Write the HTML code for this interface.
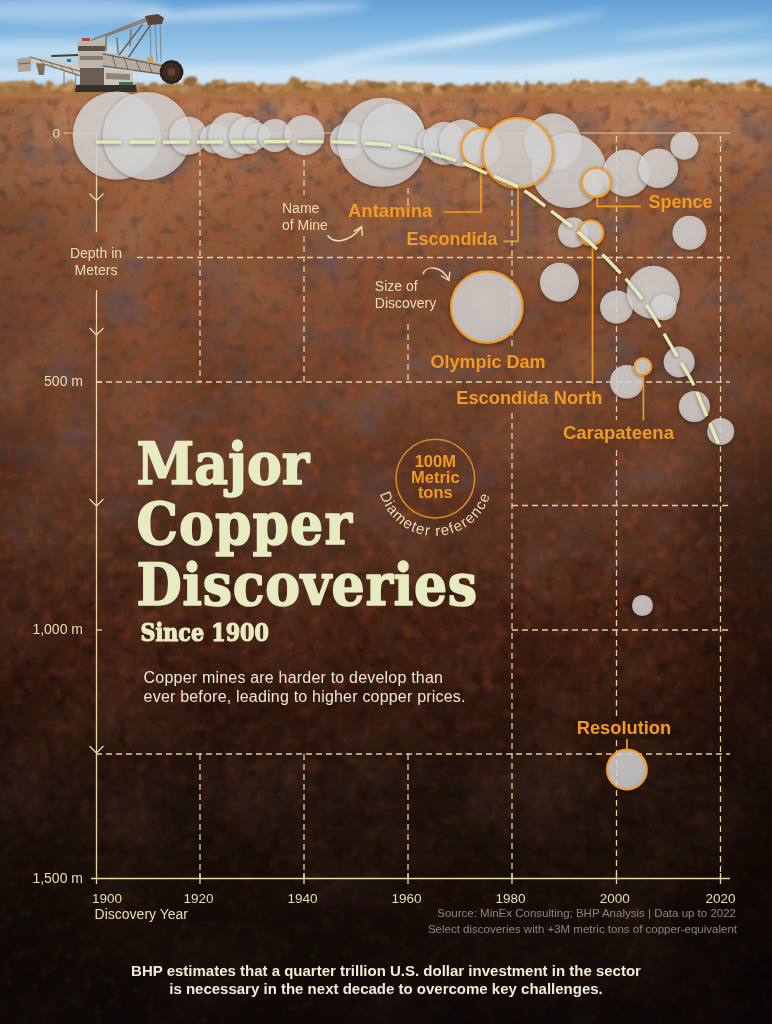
<!DOCTYPE html>
<html lang="en"><head><meta charset="utf-8"><title>Major Copper Discoveries Since 1900</title>
<style>
html,body{margin:0;padding:0;background:#1c130e;}
#c{position:relative;width:772px;height:1024px;overflow:hidden;}
.layer{position:absolute;left:0;top:0;display:block;}
</style></head>
<body><div id="c">
<svg class="layer" width="772" height="1024" viewBox="0 0 772 1024">
<defs>
<linearGradient id="sky" x1="0" y1="0" x2="0" y2="1">
 <stop offset="0" stop-color="#65a2d7"/><stop offset="0.4" stop-color="#8cbfe4"/><stop offset="0.75" stop-color="#b2d4ec"/><stop offset="1" stop-color="#c6def0"/>
</linearGradient>
<linearGradient id="soilg" gradientUnits="userSpaceOnUse" x1="0" y1="88" x2="0" y2="1024">
 <stop offset="0.0000" stop-color="#b47c50"/>
 <stop offset="0.0128" stop-color="#b27850"/>
 <stop offset="0.0662" stop-color="#a46c48"/>
 <stop offset="0.1410" stop-color="#905c3b"/>
 <stop offset="0.2265" stop-color="#7d4c31"/>
 <stop offset="0.3333" stop-color="#72452c"/>
 <stop offset="0.4081" stop-color="#623925"/>
 <stop offset="0.4829" stop-color="#54301f"/>
 <stop offset="0.5598" stop-color="#462315"/>
 <stop offset="0.6004" stop-color="#3e1e12"/>
 <stop offset="0.6752" stop-color="#2f180f"/>
 <stop offset="0.7500" stop-color="#24150e"/>
 <stop offset="0.8141" stop-color="#1e110b"/>
 <stop offset="0.8889" stop-color="#140c09"/>
 <stop offset="1.0000" stop-color="#0e0907"/>
</linearGradient>
<linearGradient id="side" x1="0" y1="0" x2="1" y2="0">
 <stop offset="0" stop-color="#000" stop-opacity="0.12"/><stop offset="0.14" stop-color="#000" stop-opacity="0"/>
 <stop offset="0.9" stop-color="#000" stop-opacity="0"/><stop offset="1" stop-color="#000" stop-opacity="0.1"/>
</linearGradient>
<filter id="nz1" x="0" y="0" width="100%" height="100%" color-interpolation-filters="sRGB">
 <feTurbulence type="fractalNoise" baseFrequency="0.012" numOctaves="2" seed="11"/>
 <feColorMatrix type="matrix" values="0.3 0 0 0 0.35  0.3 0 0 0 0.35  0.3 0 0 0 0.35  0 0 0 0 1"/>
</filter>
<filter id="nzd" x="0" y="0" width="100%" height="100%" color-interpolation-filters="sRGB">
 <feTurbulence type="fractalNoise" baseFrequency="0.085" numOctaves="3" seed="5" result="t"/>
 <feColorMatrix in="t" type="matrix" values="0 0 0 0 0.22  0 0 0 0 0.18  0 0 0 0 0.2  1.2 0 0 0 -0.6"/>
</filter>
<filter id="nzl" x="0" y="0" width="100%" height="100%" color-interpolation-filters="sRGB">
 <feTurbulence type="fractalNoise" baseFrequency="0.075" numOctaves="3" seed="9" result="t"/>
 <feColorMatrix in="t" type="matrix" values="0 0 0 0 0.68  0 0 0 0 0.3  0 0 0 0 0.15  -1.2 0 0 0 0.6"/>
</filter>
<filter id="nzb" x="0" y="0" width="100%" height="100%" color-interpolation-filters="sRGB">
 <feTurbulence type="fractalNoise" baseFrequency="0.02 0.028" numOctaves="3" seed="17" result="t"/>
 <feColorMatrix in="t" type="matrix" values="0 0 0 0 0.36  0 0 0 0 0.33  0 0 0 0 0.38  1.9 0 0 0 -1.026"/>
</filter>
<linearGradient id="bfade" gradientUnits="userSpaceOnUse" x1="0" y1="88" x2="0" y2="700">
 <stop offset="0" stop-color="#fff"/><stop offset="0.55" stop-color="#fff" stop-opacity="0.7"/><stop offset="1" stop-color="#fff" stop-opacity="0"/>
</linearGradient>
<mask id="bmask"><rect x="0" y="88" width="772" height="620" fill="url(#bfade)"/></mask>
<linearGradient id="lfade" gradientUnits="userSpaceOnUse" x1="0" y1="88" x2="0" y2="1024">
 <stop offset="0" stop-color="#fff"/><stop offset="0.45" stop-color="#fff" stop-opacity="0.85"/><stop offset="0.7" stop-color="#fff" stop-opacity="0.35"/><stop offset="1" stop-color="#fff" stop-opacity="0.15"/>
</linearGradient>
<mask id="lmask"><rect x="0" y="88" width="772" height="936" fill="url(#lfade)"/></mask>
<linearGradient id="dfade" gradientUnits="userSpaceOnUse" x1="0" y1="88" x2="0" y2="1024">
 <stop offset="0" stop-color="#fff"/><stop offset="0.35" stop-color="#fff" stop-opacity="0.85"/><stop offset="0.55" stop-color="#fff" stop-opacity="0.3"/><stop offset="0.65" stop-color="#fff" stop-opacity="0"/><stop offset="1" stop-color="#fff" stop-opacity="0"/>
</linearGradient>
<filter id="nzk" x="0" y="0" width="100%" height="100%" color-interpolation-filters="sRGB">
 <feTurbulence type="fractalNoise" baseFrequency="0.07" numOctaves="3" seed="23" result="t"/>
 <feColorMatrix in="t" type="matrix" values="0 0 0 0 0.04  0 0 0 0 0.025  0 0 0 0 0.02  1.2 0 0 0 -0.6"/>
</filter>
<linearGradient id="kfade" gradientUnits="userSpaceOnUse" x1="0" y1="88" x2="0" y2="1024">
 <stop offset="0" stop-color="#fff" stop-opacity="0"/><stop offset="0.4" stop-color="#fff" stop-opacity="0"/><stop offset="0.6" stop-color="#fff" stop-opacity="0.9"/><stop offset="1" stop-color="#fff" stop-opacity="0.9"/>
</linearGradient>
<mask id="kmask"><rect x="0" y="88" width="772" height="936" fill="url(#kfade)"/></mask>
<mask id="dmask"><rect x="0" y="88" width="772" height="936" fill="url(#dfade)"/></mask>
<linearGradient id="rvig" x1="0" y1="0" x2="1" y2="0">
 <stop offset="0" stop-color="#000" stop-opacity="0"/><stop offset="1" stop-color="#000" stop-opacity="0.35"/>
</linearGradient>
<linearGradient id="rvmg" gradientUnits="userSpaceOnUse" x1="0" y1="380" x2="0" y2="1024">
 <stop offset="0" stop-color="#fff" stop-opacity="0"/><stop offset="0.2" stop-color="#fff"/><stop offset="1" stop-color="#fff"/>
</linearGradient>
<mask id="rvm"><rect x="660" y="380" width="112" height="644" fill="url(#rvmg)"/></mask>
<filter id="blur4"><feGaussianBlur stdDeviation="4"/></filter>
<filter id="blur1"><feGaussianBlur stdDeviation="0.8"/></filter>
</defs>
<rect x="0" y="0" width="772" height="100" fill="url(#sky)"/>
<g filter="url(#blur4)" fill="#ffffff">
 <ellipse cx="60" cy="10" rx="110" ry="12" opacity="0.35"/>
 <ellipse cx="250" cy="12" rx="120" ry="6" opacity="0.45" transform="rotate(-3 250 12)"/>
 <ellipse cx="430" cy="44" rx="130" ry="5" opacity="0.5" transform="rotate(-10 430 44)"/>
 <ellipse cx="520" cy="30" rx="90" ry="3.5" opacity="0.4" transform="rotate(-12 520 30)"/>
 <ellipse cx="650" cy="58" rx="130" ry="5" opacity="0.45" transform="rotate(-5 650 58)"/>
 <ellipse cx="40" cy="50" rx="90" ry="10" opacity="0.35"/>
 <ellipse cx="690" cy="30" rx="80" ry="4" opacity="0.3" transform="rotate(-6 690 30)"/>
 <ellipse cx="386" cy="74" rx="420" ry="10" opacity="0.35"/>
</g>
<rect x="0" y="88" width="772" height="936" fill="url(#soilg)"/>
<rect x="0" y="88" width="772" height="936" filter="url(#nz1)" style="mix-blend-mode:soft-light"/>
<rect x="0" y="88" width="772" height="936" filter="url(#nzd)" mask="url(#dmask)"/>
<rect x="0" y="88" width="772" height="936" filter="url(#nzk)" mask="url(#kmask)"/>
<rect x="0" y="88" width="772" height="936" filter="url(#nzl)" mask="url(#lmask)"/>
<rect x="0" y="88" width="772" height="620" filter="url(#nzb)" mask="url(#bmask)"/>
<rect x="0" y="88" width="772" height="936" fill="url(#side)"/>
<rect x="660" y="380" width="112" height="644" fill="url(#rvig)" mask="url(#rvm)"/>

<g filter="url(#blur1)"><rect x="0" y="86" width="772" height="12" fill="#b07a4a"/><polygon points="0.0,96.0 0.0,81.2 3.6,82.4 10.3,86.8 14.2,83.7 17.6,83.3 23.9,86.8 27.7,83.9 33.6,87.1 37.0,85.6 42.0,83.1 45.3,87.6 50.5,83.8 55.8,87.3 60.9,84.5 65.6,83.0 71.8,79.4 76.0,85.2 80.3,85.7 84.1,83.7 90.1,83.9 96.7,80.9 102.8,83.7 106.5,81.7 113.1,87.7 119.9,78.2 126.0,84.5 131.5,85.3 136.3,82.8 143.1,82.9 146.8,86.7 151.0,82.6 155.7,82.1 159.4,84.9 164.3,83.5 167.8,85.2 172.4,87.9 176.4,82.2 180.4,87.3 185.4,80.5 189.2,83.4 192.8,82.3 198.1,87.9 204.7,85.9 210.6,83.3 217.1,87.4 221.5,85.9 227.1,86.9 232.7,82.3 239.5,82.4 246.3,82.3 249.9,87.8 253.1,83.0 258.4,86.5 262.3,82.0 265.3,83.8 271.4,87.3 278.0,83.2 282.3,87.4 287.2,84.1 292.5,84.9 298.0,82.8 304.0,81.6 310.4,82.5 314.9,86.7 318.8,84.9 322.2,82.7 328.7,85.1 335.2,83.0 338.9,83.8 343.6,83.2 347.3,82.9 351.7,85.3 357.5,82.0 362.7,84.9 367.7,78.9 372.1,86.6 377.6,86.1 381.8,87.5 388.5,83.8 394.6,85.7 398.2,86.6 403.8,81.4 410.1,83.1 414.6,85.5 420.1,82.6 426.8,83.1 431.1,82.7 437.9,87.0 444.1,85.0 449.1,85.4 455.2,84.9 460.9,86.5 467.2,83.8 471.8,85.6 477.6,81.9 483.1,88.0 487.7,84.4 491.9,82.9 497.0,86.2 501.5,87.7 505.1,82.4 512.1,87.5 516.3,80.9 523.0,87.4 526.6,79.6 530.3,86.7 535.5,85.2 539.1,80.6 542.6,82.4 546.7,87.3 552.7,85.9 559.2,86.3 564.9,86.3 570.0,82.9 574.9,78.8 578.9,84.3 585.4,84.0 590.1,82.2 593.1,86.3 599.5,84.3 604.4,82.8 611.4,86.2 618.2,84.3 624.5,82.7 631.1,83.8 637.7,82.7 641.8,87.1 646.0,87.4 650.3,87.0 656.9,87.3 662.7,85.6 669.7,81.0 674.7,85.3 678.7,79.9 685.3,82.2 691.6,81.5 697.1,82.5 700.2,82.8 706.8,86.5 711.0,84.3 714.1,84.5 720.1,84.1 726.3,86.2 730.0,82.1 736.7,83.7 741.3,85.8 745.6,83.2 748.7,79.8 752.3,82.6 755.9,78.8 761.6,87.3 765.1,84.0 772.0,96.0" fill="#a87a4a"/><polygon points="0.5,87.1 -0.1,89.2 -5.8,91.2 -8.9,87.1 -8.2,83.4 -4.5,82.4 -0.8,82.8" fill="#c09462"/><polygon points="12.0,87.6 8.1,91.2 3.5,92.0 -4.7,87.7 -1.8,83.5 0.6,82.1 7.8,81.9" fill="#b88c5a"/><ellipse cx="2.0" cy="88.5" rx="4.1" ry="2.2" fill="#7a4e2a" opacity="0.45"/><polygon points="19.0,85.2 14.1,87.2 9.0,87.2 3.1,86.9 3.4,83.2 7.6,81.5 14.6,80.7" fill="#b08250"/><ellipse cx="10.8" cy="87.1" rx="3.9" ry="1.6" fill="#7a4e2a" opacity="0.45"/><polygon points="25.1,85.9 22.2,88.9 18.7,91.2 11.5,87.3 11.7,85.1 16.6,80.6 23.8,81.5" fill="#b08250"/><ellipse cx="15.7" cy="88.2" rx="4.0" ry="2.0" fill="#7a4e2a" opacity="0.45"/><polygon points="29.6,84.4 29.0,87.7 23.6,89.1 19.6,86.5 18.1,83.5 23.1,79.8 29.2,82.8" fill="#b08250"/><ellipse cx="24.9" cy="87.2" rx="3.5" ry="1.9" fill="#7a4e2a" opacity="0.45"/><polygon points="36.4,83.5 33.9,86.9 26.9,88.0 22.1,86.8 25.1,82.4 30.0,80.7 33.9,80.3" fill="#b08250"/><ellipse cx="33.2" cy="85.7" rx="4.2" ry="1.8" fill="#7a4e2a" opacity="0.45"/><polygon points="43.1,86.9 41.7,93.0 35.8,92.3 28.9,90.0 32.1,85.9 33.6,83.2 39.5,84.4" fill="#9a6c3e"/><polygon points="47.6,90.4 47.1,92.3 42.3,93.3 39.9,91.6 40.9,89.1 42.8,88.0 45.6,87.3" fill="#b08250"/><ellipse cx="42.4" cy="91.9" rx="2.2" ry="1.3" fill="#7a4e2a" opacity="0.45"/><polygon points="53.6,84.4 52.7,89.4 48.6,90.4 46.9,87.8 45.2,83.3 48.7,80.3 53.6,82.9" fill="#a87a48"/><ellipse cx="50.5" cy="88.4" rx="2.3" ry="1.8" fill="#7a4e2a" opacity="0.45"/><polygon points="60.3,87.9 58.0,93.0 52.8,92.5 49.8,89.9 50.8,86.5 52.5,85.4 60.5,85.9" fill="#c09462"/><ellipse cx="54.6" cy="91.5" rx="3.5" ry="1.8" fill="#7a4e2a" opacity="0.45"/><polygon points="65.6,90.7 65.8,93.1 59.4,93.1 54.3,92.2 55.7,89.9 60.0,88.3 62.1,88.6" fill="#946638"/><polygon points="71.7,91.6 70.0,93.2 65.1,94.3 59.7,93.0 61.0,89.3 63.1,87.2 71.1,87.3" fill="#c09462"/><ellipse cx="62.8" cy="92.1" rx="3.8" ry="1.8" fill="#7a4e2a" opacity="0.45"/><polygon points="76.7,88.5 73.5,91.0 68.9,92.6 65.7,88.3 67.5,84.9 71.2,81.7 75.5,83.6" fill="#c09462"/><polygon points="82.4,90.6 79.1,92.4 75.4,93.6 72.2,91.6 72.4,88.8 77.2,86.9 79.8,88.1" fill="#946638"/><polygon points="89.4,87.0 87.0,88.8 83.9,89.4 80.0,87.7 79.3,83.9 84.2,81.6 85.9,82.2" fill="#b08250"/><ellipse cx="84.7" cy="88.3" rx="2.5" ry="1.5" fill="#7a4e2a" opacity="0.45"/><polygon points="96.2,87.3 94.7,92.5 91.3,93.2 85.2,88.9 86.8,86.6 88.6,83.7 96.2,84.3" fill="#b08250"/><ellipse cx="93.8" cy="88.9" rx="3.3" ry="2.0" fill="#7a4e2a" opacity="0.45"/><polygon points="102.2,86.9 100.7,87.9 97.3,88.4 92.7,87.1 93.7,84.6 97.3,83.7 100.1,83.0" fill="#a87a48"/><polygon points="110.4,84.9 106.9,89.9 98.7,90.0 94.4,87.1 94.4,84.3 102.3,83.0 104.9,83.2" fill="#c09462"/><ellipse cx="105.0" cy="88.1" rx="3.9" ry="1.7" fill="#7a4e2a" opacity="0.45"/><polygon points="114.3,86.6 112.2,89.7 107.5,90.9 105.4,87.5 105.4,85.0 109.7,83.1 113.9,83.5" fill="#c09462"/><ellipse cx="107.0" cy="89.1" rx="2.9" ry="1.8" fill="#7a4e2a" opacity="0.45"/><polygon points="119.8,86.0 119.2,91.7 114.5,91.6 111.7,88.8 111.2,85.4 113.9,82.9 118.1,84.0" fill="#946638"/><ellipse cx="118.9" cy="89.0" rx="2.2" ry="2.3" fill="#7a4e2a" opacity="0.45"/><polygon points="128.1,88.5 126.2,91.4 120.7,92.3 117.7,90.1 118.7,84.8 122.3,81.9 127.3,83.3" fill="#c09462"/><polygon points="133.8,86.5 129.3,89.0 125.4,90.0 122.8,88.0 121.5,84.3 126.2,83.1 130.0,83.7" fill="#c09462"/><ellipse cx="124.4" cy="87.6" rx="3.1" ry="1.5" fill="#7a4e2a" opacity="0.45"/><polygon points="138.5,87.6 137.9,90.1 131.4,90.9 128.0,88.7 128.1,85.7 132.4,85.0 138.5,85.2" fill="#c09462"/><ellipse cx="132.4" cy="90.2" rx="3.0" ry="1.4" fill="#7a4e2a" opacity="0.45"/><polygon points="145.1,87.4 144.9,90.8 136.0,91.1 132.0,88.3 131.2,86.3 135.3,84.2 142.6,84.5" fill="#b88c5a"/><ellipse cx="141.2" cy="88.8" rx="4.0" ry="1.4" fill="#7a4e2a" opacity="0.45"/><polygon points="154.1,88.5 150.1,91.0 145.5,92.4 139.8,89.5 138.7,86.8 145.6,86.6 151.3,86.3" fill="#946638"/><polygon points="154.0,89.8 153.2,92.9 149.4,93.5 145.4,91.8 146.0,89.4 149.3,87.2 153.6,88.1" fill="#9a6c3e"/><polygon points="159.9,88.6 159.4,91.6 151.9,92.6 150.0,91.4 149.2,85.7 153.6,84.3 159.5,85.3" fill="#a87a48"/><ellipse cx="156.9" cy="89.7" rx="3.0" ry="2.0" fill="#7a4e2a" opacity="0.45"/><polygon points="166.0,90.3 165.2,91.8 158.3,93.2 154.6,90.2 154.4,88.4 159.0,86.7 164.6,86.9" fill="#b08250"/><polygon points="175.2,86.5 170.8,89.6 164.9,89.8 162.0,88.9 162.7,84.3 166.6,82.8 172.0,82.1" fill="#a87a48"/><polygon points="177.9,90.7 177.0,92.6 170.7,94.0 167.1,92.4 165.8,89.5 171.7,87.3 176.7,87.8" fill="#b08250"/><ellipse cx="175.9" cy="92.4" rx="3.3" ry="1.3" fill="#7a4e2a" opacity="0.45"/><polygon points="182.4,86.1 180.8,87.9 178.0,88.7 173.7,87.0 174.6,85.4 178.7,83.6 180.1,83.6" fill="#a87a48"/><polygon points="190.2,88.4 186.9,92.1 182.9,93.7 179.3,91.7 178.4,87.6 183.6,85.9 190.1,86.7" fill="#b88c5a"/><polygon points="197.4,80.8 195.3,84.6 190.6,86.8 182.5,83.2 185.0,78.4 190.3,76.2 196.2,77.3" fill="#946638"/><polygon points="203.0,86.1 200.5,88.7 196.7,88.7 193.9,86.7 193.9,85.2 198.3,83.1 200.6,84.1" fill="#a87a48"/><polygon points="208.5,88.6 207.8,91.3 203.9,92.0 200.6,90.3 201.0,87.8 202.3,86.1 206.2,87.0" fill="#946638"/><polygon points="217.7,89.8 214.2,95.0 210.0,94.0 202.9,91.5 203.0,85.8 207.4,82.6 215.8,85.7" fill="#9a6c3e"/><polygon points="220.6,85.7 217.3,88.8 215.2,90.9 209.5,87.2 210.2,82.2 214.5,79.5 219.8,80.1" fill="#a87a48"/><ellipse cx="217.3" cy="87.5" rx="3.4" ry="2.5" fill="#7a4e2a" opacity="0.45"/><polygon points="227.7,82.4 225.4,88.7 221.9,87.3 219.3,85.1 218.9,81.9 221.7,78.4 226.2,80.8" fill="#c09462"/><ellipse cx="225.7" cy="84.9" rx="2.2" ry="2.0" fill="#7a4e2a" opacity="0.45"/><polygon points="234.2,86.2 232.3,89.9 225.3,90.4 219.9,88.1 220.9,84.0 225.8,83.4 233.2,83.7" fill="#946638"/><polygon points="242.4,89.0 237.3,92.4 229.8,92.6 226.8,89.9 226.6,87.0 231.1,86.4 238.0,86.9" fill="#b88c5a"/><ellipse cx="233.6" cy="90.5" rx="4.4" ry="1.5" fill="#7a4e2a" opacity="0.45"/><polygon points="242.0,87.6 240.3,91.0 237.2,91.6 233.8,90.5 234.2,86.3 236.1,83.4 240.8,84.2" fill="#a87a48"/><ellipse cx="239.5" cy="89.5" rx="2.2" ry="1.9" fill="#7a4e2a" opacity="0.45"/><polygon points="251.4,87.6 248.1,90.9 242.8,90.7 240.1,89.7 239.5,86.5 243.8,85.2 247.8,86.0" fill="#9a6c3e"/><ellipse cx="246.7" cy="89.5" rx="4.2" ry="1.2" fill="#7a4e2a" opacity="0.45"/><polygon points="257.3,86.4 255.1,90.3 248.3,90.1 247.0,88.3 245.2,83.4 249.3,81.2 254.0,82.2" fill="#b08250"/><ellipse cx="253.1" cy="88.9" rx="3.4" ry="2.0" fill="#7a4e2a" opacity="0.45"/><polygon points="260.8,90.9 259.0,93.2 254.8,93.0 253.0,91.4 252.9,88.2 254.6,87.1 259.5,88.0" fill="#b88c5a"/><ellipse cx="254.5" cy="92.8" rx="2.2" ry="1.6" fill="#7a4e2a" opacity="0.45"/><polygon points="270.0,90.0 265.4,92.3 261.4,93.2 255.5,90.3 256.4,88.2 262.6,85.6 266.9,87.0" fill="#946638"/><ellipse cx="264.7" cy="91.0" rx="3.5" ry="1.7" fill="#7a4e2a" opacity="0.45"/><polygon points="276.8,89.3 276.1,91.9 269.4,93.8 261.9,91.3 262.7,85.6 267.7,83.7 275.7,85.2" fill="#b88c5a"/><polygon points="278.1,86.9 276.5,88.6 271.8,89.8 269.5,88.3 270.7,84.8 272.6,84.6 275.1,84.2" fill="#a87a48"/><ellipse cx="270.0" cy="88.3" rx="2.1" ry="1.4" fill="#7a4e2a" opacity="0.45"/><polygon points="284.3,87.0 282.4,89.7 279.7,89.4 276.0,87.8 277.0,85.2 280.2,83.4 282.5,83.9" fill="#b88c5a"/><ellipse cx="281.3" cy="89.6" rx="2.3" ry="1.4" fill="#7a4e2a" opacity="0.45"/><polygon points="291.1,86.9 291.7,88.5 286.8,90.5 282.0,87.4 283.5,84.2 287.2,83.3 289.6,82.3" fill="#b08250"/><polygon points="300.7,80.6 298.8,85.9 292.4,85.4 287.9,82.4 289.3,79.7 292.3,76.3 299.6,78.8" fill="#a87a48"/><ellipse cx="297.4" cy="84.4" rx="4.0" ry="2.4" fill="#7a4e2a" opacity="0.45"/><polygon points="305.7,87.8 305.8,90.9 298.3,91.5 294.9,89.8 293.2,86.5 298.3,82.2 304.6,83.7" fill="#9a6c3e"/><polygon points="312.1,85.5 310.6,89.1 305.4,89.7 303.1,86.4 302.8,84.5 304.6,80.8 311.6,82.2" fill="#946638"/><ellipse cx="309.8" cy="88.3" rx="2.7" ry="1.9" fill="#7a4e2a" opacity="0.45"/><polygon points="320.9,86.2 321.4,88.4 311.7,88.2 306.0,86.3 305.5,84.1 312.1,80.4 320.3,82.4" fill="#c09462"/><polygon points="326.6,86.0 325.0,88.1 319.4,89.5 315.5,88.7 316.1,84.5 321.3,82.3 323.6,82.8" fill="#c09462"/><ellipse cx="323.7" cy="88.6" rx="3.2" ry="1.6" fill="#7a4e2a" opacity="0.45"/><polygon points="329.7,87.5 327.8,90.6 324.5,93.2 321.3,89.2 321.7,87.1 324.1,84.6 329.3,85.0" fill="#9a6c3e"/><polygon points="341.1,87.1 339.2,93.1 329.8,93.1 326.3,90.6 325.9,86.0 333.6,84.0 337.1,84.8" fill="#b08250"/><ellipse cx="330.5" cy="90.0" rx="3.8" ry="2.2" fill="#7a4e2a" opacity="0.45"/><polygon points="344.3,90.3 343.1,93.0 339.3,95.5 336.5,92.1 336.6,90.2 338.7,86.8 341.5,87.7" fill="#b08250"/><polygon points="349.8,84.3 347.2,89.9 344.1,89.8 341.4,87.0 341.2,84.6 345.1,80.1 346.9,80.6" fill="#b88c5a"/><ellipse cx="343.5" cy="86.7" rx="2.1" ry="2.0" fill="#7a4e2a" opacity="0.45"/><polygon points="356.0,89.4 354.6,92.0 350.2,93.1 347.2,91.4 346.7,87.9 349.3,86.6 352.9,87.2" fill="#b88c5a"/><ellipse cx="350.8" cy="92.7" rx="2.8" ry="1.4" fill="#7a4e2a" opacity="0.45"/><polygon points="363.1,89.1 360.0,92.5 356.7,93.5 351.3,90.9 351.6,88.1 356.4,85.4 359.3,85.3" fill="#946638"/><polygon points="367.4,84.5 366.5,87.3 359.6,89.2 356.1,85.3 355.0,82.1 358.7,79.9 365.4,80.5" fill="#c09462"/><ellipse cx="362.1" cy="87.1" rx="3.7" ry="1.9" fill="#7a4e2a" opacity="0.45"/><polygon points="371.1,89.1 369.7,92.0 365.5,94.3 362.5,91.9 361.6,87.1 364.8,84.0 369.2,86.1" fill="#a87a48"/><polygon points="378.8,83.7 376.2,87.5 371.8,88.2 367.3,85.7 366.5,82.9 372.2,81.1 376.2,82.1" fill="#946638"/><ellipse cx="373.5" cy="87.0" rx="3.0" ry="2.1" fill="#7a4e2a" opacity="0.45"/><polygon points="388.9,85.5 384.9,88.4 378.7,88.1 372.4,86.0 373.6,82.5 377.8,82.1 385.4,82.4" fill="#9a6c3e"/><ellipse cx="382.2" cy="86.5" rx="4.0" ry="1.8" fill="#7a4e2a" opacity="0.45"/><polygon points="391.8,91.1 391.4,93.3 386.3,92.6 381.7,91.3 383.0,89.7 384.8,87.4 391.1,88.1" fill="#b88c5a"/><polygon points="398.8,85.6 398.0,87.3 392.9,89.2 387.4,86.2 386.0,83.3 391.9,81.2 395.9,81.0" fill="#b88c5a"/><polygon points="405.6,89.3 405.7,92.6 400.4,93.6 394.6,92.4 395.8,87.1 400.3,84.2 403.8,86.4" fill="#c09462"/><polygon points="412.2,85.4 409.1,89.1 406.4,89.9 402.4,86.9 402.1,83.3 405.8,83.0 411.6,84.1" fill="#b08250"/><ellipse cx="404.8" cy="87.3" rx="3.0" ry="1.7" fill="#7a4e2a" opacity="0.45"/><polygon points="417.4,85.2 416.4,88.9 410.2,89.5 405.8,86.7 403.6,85.0 409.4,81.9 416.4,82.1" fill="#a87a48"/><polygon points="421.7,86.5 420.3,90.4 417.1,91.8 412.8,90.3 410.7,86.5 416.1,83.0 421.6,83.6" fill="#c09462"/><polygon points="427.0,88.4 426.7,91.8 420.7,94.2 419.9,91.0 418.3,88.5 420.6,84.3 425.0,86.3" fill="#c09462"/><ellipse cx="426.3" cy="90.5" rx="2.4" ry="1.9" fill="#7a4e2a" opacity="0.45"/><polygon points="436.6,89.1 434.7,92.5 428.3,94.1 422.2,90.6 422.5,87.5 430.0,83.9 435.1,86.1" fill="#946638"/><ellipse cx="432.1" cy="91.6" rx="4.0" ry="2.5" fill="#7a4e2a" opacity="0.45"/><polygon points="443.4,89.7 443.6,94.2 436.0,95.0 431.7,93.5 431.7,90.0 435.2,86.6 443.8,86.9" fill="#c09462"/><polygon points="451.3,88.4 447.3,90.8 443.6,91.9 440.0,89.2 439.3,85.6 443.9,84.8 448.9,85.9" fill="#946638"/><ellipse cx="443.5" cy="88.7" rx="3.1" ry="1.6" fill="#7a4e2a" opacity="0.45"/><polygon points="456.0,86.0 452.4,88.9 449.0,88.6 445.4,86.1 444.3,84.1 450.1,82.8 452.0,83.2" fill="#9a6c3e"/><ellipse cx="447.6" cy="88.3" rx="3.0" ry="1.2" fill="#7a4e2a" opacity="0.45"/><polygon points="462.2,90.2 462.0,92.0 452.5,92.8 448.8,91.3 447.5,88.0 453.5,85.9 458.6,86.8" fill="#a87a48"/><ellipse cx="458.8" cy="91.6" rx="4.0" ry="1.4" fill="#7a4e2a" opacity="0.45"/><polygon points="467.4,87.9 466.9,91.8 461.8,91.9 457.1,90.9 456.1,87.5 459.2,85.7 467.3,85.9" fill="#a87a48"/><ellipse cx="462.1" cy="90.2" rx="3.4" ry="1.5" fill="#7a4e2a" opacity="0.45"/><polygon points="473.8,86.7 472.6,91.1 467.9,91.1 464.9,89.5 466.2,86.9 468.0,84.4 471.1,85.6" fill="#b08250"/><ellipse cx="470.6" cy="91.0" rx="2.1" ry="1.7" fill="#7a4e2a" opacity="0.45"/><polygon points="484.6,90.1 483.0,92.4 476.0,94.4 466.0,90.4 469.2,88.1 474.4,85.4 480.5,86.0" fill="#9a6c3e"/><ellipse cx="475.2" cy="90.8" rx="4.5" ry="1.7" fill="#7a4e2a" opacity="0.45"/><polygon points="489.4,89.2 484.7,91.2 482.9,91.9 478.2,88.8 478.9,86.4 482.3,84.7 487.1,85.8" fill="#946638"/><polygon points="492.4,86.6 491.4,89.0 487.4,88.8 485.2,87.6 484.4,84.9 487.0,81.6 490.5,82.9" fill="#9a6c3e"/><polygon points="496.9,89.6 496.7,93.1 490.1,93.2 487.7,91.8 487.7,87.0 491.8,83.2 496.9,85.5" fill="#b88c5a"/><polygon points="503.8,86.6 501.0,89.1 495.2,91.6 492.7,88.3 494.0,83.7 498.2,80.5 502.1,82.7" fill="#b08250"/><ellipse cx="495.5" cy="88.7" rx="2.7" ry="2.2" fill="#7a4e2a" opacity="0.45"/><polygon points="508.6,86.9 508.0,91.4 504.3,91.7 501.4,91.0 502.2,84.5 505.1,82.9 507.3,81.5" fill="#946638"/><polygon points="515.2,87.7 515.5,92.5 510.3,93.4 505.0,89.8 506.6,84.3 508.4,82.4 513.3,83.2" fill="#c09462"/><ellipse cx="508.6" cy="89.4" rx="3.1" ry="2.3" fill="#7a4e2a" opacity="0.45"/><polygon points="524.8,90.6 522.9,92.3 515.6,93.6 510.1,92.2 512.7,89.2 516.0,88.3 522.3,89.0" fill="#c09462"/><polygon points="528.9,91.4 526.9,93.9 521.2,94.2 516.7,92.5 515.9,88.1 519.6,87.4 527.1,87.9" fill="#c09462"/><ellipse cx="525.1" cy="92.0" rx="4.2" ry="1.6" fill="#7a4e2a" opacity="0.45"/><polygon points="533.8,88.1 532.0,90.7 527.0,91.4 523.9,89.3 524.5,86.2 527.5,83.6 532.0,84.9" fill="#946638"/><polygon points="535.3,87.0 533.9,90.0 530.7,91.6 528.6,89.1 528.9,86.1 532.2,83.7 535.7,84.5" fill="#b08250"/><ellipse cx="528.1" cy="89.8" rx="2.2" ry="1.6" fill="#7a4e2a" opacity="0.45"/><polygon points="544.8,90.2 544.6,92.5 537.5,93.7 533.0,91.9 532.2,89.4 536.9,86.1 543.5,87.7" fill="#a87a48"/><polygon points="551.8,90.4 551.7,94.4 545.2,95.5 538.7,92.1 536.7,87.0 544.1,84.9 550.0,85.5" fill="#b88c5a"/><ellipse cx="543.0" cy="91.7" rx="4.1" ry="2.2" fill="#7a4e2a" opacity="0.45"/><polygon points="557.1,86.1 556.2,89.4 552.1,89.9 546.4,89.3 546.0,84.6 552.1,82.7 557.4,83.4" fill="#a87a48"/><ellipse cx="550.6" cy="87.6" rx="3.3" ry="1.7" fill="#7a4e2a" opacity="0.45"/><polygon points="559.3,87.7 559.5,90.2 555.9,91.7 552.8,90.6 551.7,86.5 555.6,82.8 559.5,85.1" fill="#b08250"/><polygon points="570.0,87.1 567.1,89.8 563.4,91.4 559.6,88.3 559.8,85.0 561.4,83.5 569.1,83.8" fill="#b88c5a"/><ellipse cx="561.3" cy="89.8" rx="3.2" ry="1.7" fill="#7a4e2a" opacity="0.45"/><polygon points="577.7,87.5 574.1,90.9 571.8,91.4 567.4,89.1 567.8,87.5 571.1,84.3 574.8,86.3" fill="#a87a48"/><polygon points="583.4,87.8 581.7,90.9 577.3,91.5 573.6,88.6 571.9,86.1 575.9,82.3 581.6,83.5" fill="#b88c5a"/><ellipse cx="577.0" cy="90.1" rx="3.1" ry="2.2" fill="#7a4e2a" opacity="0.45"/><polygon points="592.2,85.3 587.6,90.8 581.7,91.1 574.8,86.9 577.3,84.0 580.3,79.7 588.5,80.3" fill="#a87a48"/><polygon points="597.4,91.2 597.9,92.9 588.9,93.7 584.7,92.4 582.6,87.7 588.4,87.3 593.9,87.3" fill="#b88c5a"/><ellipse cx="586.8" cy="92.0" rx="4.3" ry="1.7" fill="#7a4e2a" opacity="0.45"/><polygon points="601.7,84.8 600.2,88.0 596.7,89.1 592.0,86.9 591.9,83.3 595.2,81.0 598.7,81.1" fill="#b08250"/><ellipse cx="597.2" cy="87.2" rx="2.4" ry="1.8" fill="#7a4e2a" opacity="0.45"/><polygon points="608.0,86.4 604.1,90.1 600.5,90.9 594.4,87.4 596.4,84.4 599.9,82.6 607.1,82.1" fill="#b08250"/><polygon points="615.7,86.7 612.3,87.6 603.6,89.5 599.0,86.7 602.6,83.4 607.8,81.3 613.5,81.5" fill="#b08250"/><polygon points="622.5,89.9 620.0,94.4 614.3,95.5 608.6,92.4 610.3,87.9 613.1,86.3 617.7,87.2" fill="#a87a48"/><ellipse cx="617.4" cy="93.3" rx="3.3" ry="2.1" fill="#7a4e2a" opacity="0.45"/><polygon points="628.4,85.1 627.1,88.0 621.2,90.5 614.8,88.7 614.3,83.0 622.4,80.4 626.5,80.6" fill="#b08250"/><ellipse cx="619.1" cy="86.5" rx="3.9" ry="2.2" fill="#7a4e2a" opacity="0.45"/><polygon points="634.6,87.6 632.4,91.1 628.9,91.2 625.9,89.8 625.8,86.6 629.5,85.3 634.3,85.7" fill="#c09462"/><ellipse cx="630.8" cy="89.5" rx="2.7" ry="1.5" fill="#7a4e2a" opacity="0.45"/><polygon points="641.2,86.7 638.1,87.9 636.3,88.9 632.8,88.0 633.3,84.5 634.4,81.8 640.2,83.3" fill="#b88c5a"/><polygon points="645.7,83.3 645.0,86.9 640.0,89.2 635.0,85.6 635.8,81.0 638.4,77.5 643.8,78.7" fill="#b88c5a"/><ellipse cx="643.8" cy="84.4" rx="2.8" ry="2.4" fill="#7a4e2a" opacity="0.45"/><polygon points="649.5,85.9 649.4,88.4 645.8,89.7 641.6,88.2 642.0,82.7 645.0,81.8 649.0,82.1" fill="#a87a48"/><polygon points="657.3,88.5 654.0,91.9 649.1,93.1 644.0,91.8 645.2,86.7 647.7,84.0 654.4,86.4" fill="#c09462"/><ellipse cx="649.0" cy="90.2" rx="3.4" ry="2.0" fill="#7a4e2a" opacity="0.45"/><polygon points="664.4,88.7 660.9,92.6 656.2,93.4 651.9,90.7 651.2,88.1 656.9,85.7 660.2,86.0" fill="#b08250"/><polygon points="666.6,88.9 664.4,93.2 661.8,92.9 657.0,90.7 656.6,88.1 659.6,85.8 663.7,85.7" fill="#a87a48"/><ellipse cx="657.9" cy="92.3" rx="2.6" ry="1.6" fill="#7a4e2a" opacity="0.45"/><polygon points="672.0,86.7 670.4,91.6 665.2,93.7 662.0,90.2 662.1,84.4 666.0,82.7 669.5,84.4" fill="#c09462"/><polygon points="677.0,83.2 674.4,86.2 671.0,87.8 667.1,85.1 666.1,80.7 671.2,80.1 675.4,80.3" fill="#b88c5a"/><ellipse cx="668.8" cy="85.2" rx="3.1" ry="1.7" fill="#7a4e2a" opacity="0.45"/><polygon points="683.6,87.5 681.2,90.7 676.1,90.9 671.3,90.0 669.8,87.0 674.2,84.2 681.0,85.4" fill="#c09462"/><ellipse cx="674.0" cy="89.4" rx="3.2" ry="1.7" fill="#7a4e2a" opacity="0.45"/><polygon points="688.8,86.9 686.6,92.0 681.1,91.4 678.1,89.3 678.3,85.4 682.4,83.0 687.1,83.4" fill="#b88c5a"/><ellipse cx="686.6" cy="89.5" rx="3.1" ry="1.8" fill="#7a4e2a" opacity="0.45"/><polygon points="696.8,90.6 692.2,93.1 689.0,94.3 683.0,92.4 681.0,87.8 686.2,87.2 691.4,88.0" fill="#a87a48"/><polygon points="701.7,84.2 699.1,90.2 692.8,90.4 690.2,87.1 687.8,81.8 692.7,79.4 701.4,79.4" fill="#946638"/><ellipse cx="693.8" cy="86.1" rx="4.1" ry="2.3" fill="#7a4e2a" opacity="0.45"/><polygon points="707.9,89.1 704.8,91.6 697.5,92.5 693.5,90.1 695.2,87.2 700.0,84.8 703.7,86.8" fill="#c09462"/><ellipse cx="700.8" cy="90.5" rx="3.9" ry="1.4" fill="#7a4e2a" opacity="0.45"/><polygon points="708.6,82.6 706.6,88.9 703.6,89.3 699.8,84.4 698.3,80.3 701.7,78.3 708.0,79.5" fill="#946638"/><ellipse cx="702.7" cy="85.9" rx="2.9" ry="2.3" fill="#7a4e2a" opacity="0.45"/><polygon points="715.4,84.7 713.5,89.4 704.8,91.4 703.1,86.7 703.0,82.2 707.7,80.0 712.0,81.9" fill="#b88c5a"/><ellipse cx="706.2" cy="86.9" rx="3.6" ry="2.4" fill="#7a4e2a" opacity="0.45"/><polygon points="719.6,89.4 719.4,93.6 714.0,95.1 707.2,90.6 709.3,86.0 711.2,83.9 717.4,85.9" fill="#946638"/><polygon points="727.8,86.7 725.2,90.1 718.1,92.0 712.7,89.0 711.6,84.8 716.8,81.8 723.5,84.1" fill="#a87a48"/><polygon points="729.6,86.7 726.6,88.9 722.0,89.5 720.2,88.7 719.7,85.1 723.6,83.0 726.7,84.2" fill="#9a6c3e"/><ellipse cx="724.3" cy="88.2" rx="2.5" ry="1.3" fill="#7a4e2a" opacity="0.45"/><polygon points="736.5,88.9 735.6,92.7 729.8,93.6 726.1,91.9 724.9,88.1 728.7,85.3 734.1,85.6" fill="#a87a48"/><ellipse cx="726.5" cy="92.6" rx="3.0" ry="1.8" fill="#7a4e2a" opacity="0.45"/><polygon points="741.5,86.7 741.6,91.4 737.0,92.4 732.4,89.3 731.4,86.4 737.2,83.2 739.7,85.0" fill="#c09462"/><ellipse cx="733.6" cy="90.3" rx="2.7" ry="2.2" fill="#7a4e2a" opacity="0.45"/><polygon points="751.0,84.4 749.5,89.0 743.3,89.8 739.5,86.2 739.3,82.4 743.1,81.2 750.4,81.7" fill="#c09462"/><polygon points="758.5,83.8 754.9,87.0 747.7,87.6 745.8,85.7 745.5,81.1 747.8,80.3 754.4,79.5" fill="#9a6c3e"/><ellipse cx="750.6" cy="85.9" rx="3.5" ry="1.7" fill="#7a4e2a" opacity="0.45"/><polygon points="761.2,89.4 759.6,92.8 756.2,92.1 753.5,90.5 753.7,84.6 757.5,82.6 759.3,84.2" fill="#c09462"/><polygon points="765.3,85.2 765.1,88.0 760.8,89.3 756.5,86.6 757.6,85.0 760.9,82.3 765.9,83.9" fill="#946638"/><polygon points="776.6,91.8 772.2,94.1 767.7,95.3 762.2,92.8 761.1,90.0 767.1,86.0 771.7,88.2" fill="#9a6c3e"/><ellipse cx="764.0" cy="93.3" rx="4.5" ry="1.8" fill="#7a4e2a" opacity="0.45"/><polygon points="780.6,91.6 777.6,93.5 773.0,93.9 765.3,92.3 766.6,89.6 770.5,87.7 777.4,87.2" fill="#a87a48"/><ellipse cx="772.9" cy="92.2" rx="4.4" ry="1.5" fill="#7a4e2a" opacity="0.45"/></g><rect x="0" y="92" width="772" height="10" fill="#a8683c" opacity="0.5" filter="url(#blur4)"/></svg>
<svg class="layer" width="772" height="1024" viewBox="0 0 772 1024"><defs>
<filter id="sh" x="-20%" y="-20%" width="140%" height="140%"><feGaussianBlur in="SourceAlpha" stdDeviation="2"/><feOffset dy="1"/><feComponentTransfer><feFuncA type="linear" slope="0.45"/></feComponentTransfer><feMerge><feMergeNode/><feMergeNode in="SourceGraphic"/></feMerge></filter>
</defs><g id="exc" stroke-linecap="round" stroke-linejoin="round">
 <path d="M150,24 L151,60 M155,22 L157,62 M160,21 L161,62" stroke="#6a645c" stroke-width="0.6" fill="none"/>
 <polygon points="30,56 78,65 94,74 93,79 90,80 44,65 30,64" fill="#cfc9bf"/>
 <path d="M30,57 L93,75 M44,64 L90,79" stroke="#6e6254" stroke-width="1.3" fill="none"/>
 <path d="M40,60 L44,65 M50,62 L54,68 M60,65 L64,71 M70,67 L74,74 M80,70 L84,77" stroke="#7a6e60" stroke-width="0.9" fill="none"/>
 <polygon points="17,59 31,57 31,71 18,72" fill="#aaa298"/>
 <path d="M19,64 L30,63" stroke="#6a6258" stroke-width="1"/>
 <polygon points="36,63 45,64 44,75 39,75" fill="#7e6e5e"/>
 <rect x="67" y="59" width="4" height="3" fill="#3e7a5a"/>
 <path d="M52,56 L78,55" stroke="#4a403a" stroke-width="2" fill="none"/>
 <path d="M64,72 L64,86 M76,74 L75,86" stroke="#6a645c" stroke-width="0.8" fill="none"/>
 <polygon points="77,41 106,40 106,68 79,68" fill="#bdb5a8"/>
 <polygon points="78,46 105,46 105,51 78,51" fill="#5e5248"/>
 <polygon points="80,56 104,56 104,60 80,60" fill="#8a7a68"/>
 <polygon points="82,38 90,38 90,41 82,41" fill="#b04a3a"/>
 <path d="M92,40 L151,16.5 M106,36 L147,20.5 M117,38 L118,53 M106,36 L106,50 M131,30 L130,46" stroke="#8a7868" stroke-width="1.7" fill="none"/>
 <path d="M151,24 L128,58 M142,25 L116,59" stroke="#6e6054" stroke-width="1.5" fill="none"/>
 <polygon points="145,16 158,14 164,18 162,24 148,25" fill="#5a4436"/>
 <polygon points="103,52 163,64 166,71 162,75 103,67" fill="#b4ac9f"/>
 <path d="M103,54 L163,66 M103,66 L162,74" stroke="#5e5248" stroke-width="1.2" fill="none"/>
 <path d="M112,55 L116,67 M124,57 L128,69 M136,60 L140,71 M148,62 L152,73" stroke="#6e6256" stroke-width="0.9" fill="none"/>
 <rect x="147" y="57" width="6" height="6" fill="#c8a060"/>
 <circle cx="171.5" cy="72" r="10" fill="#3a2a20"/>
 <circle cx="171.5" cy="72" r="10.5" fill="none" stroke="#2a1e16" stroke-width="2.8" stroke-dasharray="2.6 2.2"/>
 <circle cx="171.5" cy="72" r="4" fill="#5a4434"/>
 <polygon points="103,69 133,70 133,87 103,87" fill="#cac4ba"/>
 <polygon points="106,73 130,74 130,80 106,79" fill="#8e8478"/>
 <polygon points="119,82 133,82 133,86.5 119,86.5" fill="#3e7052"/>
 <polygon points="80,68 104,68 104,86 80,86" fill="#6a5e52"/>
 <polygon points="76,85 136,85 137,92 75,92" fill="#34302c"/>
</g><line x1="137" y1="257.5" x2="730" y2="257.5" stroke="#e9d6a6" stroke-width="1.3" stroke-dasharray="6 4" fill="none" opacity="0.95"/><line x1="96" y1="382" x2="730" y2="382" stroke="#e9d6a6" stroke-width="1.3" stroke-dasharray="6 4" fill="none" opacity="0.95"/><line x1="512" y1="505.5" x2="730" y2="505.5" stroke="#e9d6a6" stroke-width="1.3" stroke-dasharray="6 4" fill="none" opacity="0.95"/><line x1="512" y1="630" x2="730" y2="630" stroke="#e9d6a6" stroke-width="1.3" stroke-dasharray="6 4" fill="none" opacity="0.95"/><line x1="96" y1="754" x2="730" y2="754" stroke="#e9d6a6" stroke-width="1.3" stroke-dasharray="6 4" fill="none" opacity="0.95"/><line x1="200" y1="150" x2="200" y2="382" stroke="#e9d6a6" stroke-width="1.3" stroke-dasharray="6 4" fill="none" opacity="0.95"/><line x1="200" y1="754" x2="200" y2="878" stroke="#e9d6a6" stroke-width="1.3" stroke-dasharray="6 4" fill="none" opacity="0.95"/><line x1="304" y1="150" x2="304" y2="195" stroke="#e9d6a6" stroke-width="1.3" stroke-dasharray="6 4" fill="none" opacity="0.95"/><line x1="304" y1="236" x2="304" y2="382" stroke="#e9d6a6" stroke-width="1.3" stroke-dasharray="6 4" fill="none" opacity="0.95"/><line x1="304" y1="754" x2="304" y2="878" stroke="#e9d6a6" stroke-width="1.3" stroke-dasharray="6 4" fill="none" opacity="0.95"/><line x1="408" y1="188" x2="408" y2="204" stroke="#e9d6a6" stroke-width="1.3" stroke-dasharray="6 4" fill="none" opacity="0.95"/><line x1="408" y1="324" x2="408" y2="382" stroke="#e9d6a6" stroke-width="1.3" stroke-dasharray="6 4" fill="none" opacity="0.95"/><line x1="408" y1="754" x2="408" y2="878" stroke="#e9d6a6" stroke-width="1.3" stroke-dasharray="6 4" fill="none" opacity="0.95"/><line x1="512" y1="190" x2="512" y2="350" stroke="#e9d6a6" stroke-width="1.3" stroke-dasharray="6 4" fill="none" opacity="0.95"/><line x1="512" y1="413" x2="512" y2="878" stroke="#e9d6a6" stroke-width="1.3" stroke-dasharray="6 4" fill="none" opacity="0.95"/><line x1="616.5" y1="136" x2="616.5" y2="420" stroke="#e9d6a6" stroke-width="1.3" stroke-dasharray="6 4" fill="none" opacity="0.95"/><line x1="616.5" y1="450" x2="616.5" y2="718" stroke="#e9d6a6" stroke-width="1.3" stroke-dasharray="6 4" fill="none" opacity="0.95"/><line x1="616.5" y1="740" x2="616.5" y2="878" stroke="#e9d6a6" stroke-width="1.3" stroke-dasharray="6 4" fill="none" opacity="0.95"/><line x1="720.5" y1="136" x2="720.5" y2="878" stroke="#e9d6a6" stroke-width="1.3" stroke-dasharray="6 4" fill="none" opacity="0.95"/><line x1="64" y1="133" x2="730" y2="133" stroke="#e9d6a6" stroke-width="1" opacity="0.9"/><line x1="96.5" y1="133" x2="96.5" y2="232" stroke="#e9d6a6" stroke-width="1.3" fill="none"/><line x1="96.5" y1="290" x2="96.5" y2="884" stroke="#e9d6a6" stroke-width="1.3" fill="none"/><line x1="91" y1="878.5" x2="730" y2="878.5" stroke="#e9d6a6" stroke-width="1.3" fill="none"/><line x1="200" y1="873" x2="200" y2="884" stroke="#e9d6a6" stroke-width="1.3" fill="none"/><line x1="304" y1="873" x2="304" y2="884" stroke="#e9d6a6" stroke-width="1.3" fill="none"/><line x1="408" y1="873" x2="408" y2="884" stroke="#e9d6a6" stroke-width="1.3" fill="none"/><line x1="512" y1="873" x2="512" y2="884" stroke="#e9d6a6" stroke-width="1.3" fill="none"/><line x1="616.5" y1="873" x2="616.5" y2="884" stroke="#e9d6a6" stroke-width="1.3" fill="none"/><line x1="720.5" y1="873" x2="720.5" y2="884" stroke="#e9d6a6" stroke-width="1.3" fill="none"/><line x1="96.5" y1="382" x2="102" y2="382" stroke="#e9d6a6" stroke-width="1.3" fill="none"/><line x1="96.5" y1="630" x2="102" y2="630" stroke="#e9d6a6" stroke-width="1.3" fill="none"/><path d="M89.5,193.5 L96.5,200.5 L103.5,193.5" stroke="#e9d6a6" stroke-width="1.3" fill="none"/><path d="M89.5,328 L96.5,335 L103.5,328" stroke="#e9d6a6" stroke-width="1.3" fill="none"/><path d="M89.5,499 L96.5,506 L103.5,499" stroke="#e9d6a6" stroke-width="1.3" fill="none"/><path d="M89.5,746 L96.5,753 L103.5,746" stroke="#e9d6a6" stroke-width="1.3" fill="none"/><defs><radialGradient id="bg1" cx="0.42" cy="0.4" r="0.65"><stop offset="0" stop-color="#dddcdb"/><stop offset="0.75" stop-color="#d7d6d5"/><stop offset="1" stop-color="#cbcac9"/></radialGradient></defs><circle cx="116.7" cy="135.6" r="44.0" fill="url(#bg1)" fill-opacity="0.8" filter="url(#sh)"/><circle cx="146.7" cy="135.9" r="44.0" fill="url(#bg1)" fill-opacity="0.8" filter="url(#sh)"/><circle cx="188.4" cy="135.7" r="19.0" fill="url(#bg1)" fill-opacity="0.8" filter="url(#sh)"/><circle cx="215" cy="138.5" r="15.0" fill="url(#bg1)" fill-opacity="0.8" filter="url(#sh)"/><circle cx="231.4" cy="135.6" r="23.0" fill="url(#bg1)" fill-opacity="0.8" filter="url(#sh)"/><circle cx="247.5" cy="135.6" r="18.5" fill="url(#bg1)" fill-opacity="0.8" filter="url(#sh)"/><circle cx="257.5" cy="135.9" r="13.0" fill="url(#bg1)" fill-opacity="0.8" filter="url(#sh)"/><circle cx="275" cy="135.6" r="16.5" fill="url(#bg1)" fill-opacity="0.8" filter="url(#sh)"/><circle cx="304.5" cy="134.9" r="20.0" fill="url(#bg1)" fill-opacity="0.8" filter="url(#sh)"/><circle cx="347.7" cy="140.8" r="18.0" fill="url(#bg1)" fill-opacity="0.8" filter="url(#sh)"/><circle cx="382" cy="142.3" r="44.5" fill="url(#bg1)" fill-opacity="0.8" filter="url(#sh)"/><circle cx="393" cy="135.6" r="32.0" fill="url(#bg1)" fill-opacity="0.8" filter="url(#sh)"/><circle cx="432" cy="143" r="15.0" fill="url(#bg1)" fill-opacity="0.8" filter="url(#sh)"/><circle cx="444.7" cy="143.3" r="21.5" fill="url(#bg1)" fill-opacity="0.8" filter="url(#sh)"/><circle cx="462.5" cy="143.1" r="23.5" fill="url(#bg1)" fill-opacity="0.8" filter="url(#sh)"/><circle cx="553" cy="142" r="28.5" fill="url(#bg1)" fill-opacity="0.8" filter="url(#sh)"/><circle cx="569" cy="170.5" r="37.5" fill="url(#bg1)" fill-opacity="0.8" filter="url(#sh)"/><circle cx="626.3" cy="173" r="23.5" fill="url(#bg1)" fill-opacity="0.8" filter="url(#sh)"/><circle cx="658.4" cy="168.2" r="19.8" fill="url(#bg1)" fill-opacity="0.8" filter="url(#sh)"/><circle cx="684.3" cy="145.7" r="14.0" fill="url(#bg1)" fill-opacity="0.8" filter="url(#sh)"/><circle cx="689.5" cy="232.8" r="17.0" fill="url(#bg1)" fill-opacity="0.8" filter="url(#sh)"/><circle cx="573" cy="232.6" r="15.0" fill="url(#bg1)" fill-opacity="0.8" filter="url(#sh)"/><circle cx="559.4" cy="282.2" r="19.5" fill="url(#bg1)" fill-opacity="0.8" filter="url(#sh)"/><circle cx="616.6" cy="307" r="16.5" fill="url(#bg1)" fill-opacity="0.8" filter="url(#sh)"/><circle cx="653.3" cy="292.2" r="26.5" fill="url(#bg1)" fill-opacity="0.8" filter="url(#sh)"/><circle cx="663.5" cy="307.2" r="13.0" fill="url(#bg1)" fill-opacity="0.8" filter="url(#sh)"/><circle cx="679.2" cy="361.9" r="15.5" fill="url(#bg1)" fill-opacity="0.8" filter="url(#sh)"/><circle cx="626.8" cy="381.8" r="16.8" fill="url(#bg1)" fill-opacity="0.8" filter="url(#sh)"/><circle cx="694.4" cy="406.5" r="15.5" fill="url(#bg1)" fill-opacity="0.8" filter="url(#sh)"/><circle cx="720.7" cy="431.4" r="13.5" fill="url(#bg1)" fill-opacity="0.8" filter="url(#sh)"/><circle cx="642.5" cy="605.5" r="10.5" fill="url(#bg1)" fill-opacity="0.8" filter="url(#sh)"/><circle cx="481" cy="147.7" r="19.4" fill="url(#bg1)" fill-opacity="0.8" stroke="#f39a22" stroke-width="2" filter="url(#sh)"/><circle cx="517.8" cy="152.9" r="34.9" fill="url(#bg1)" fill-opacity="0.8" stroke="#f39a22" stroke-width="2" filter="url(#sh)"/><circle cx="596.3" cy="182.5" r="14.4" fill="url(#bg1)" fill-opacity="0.8" stroke="#f39a22" stroke-width="2" filter="url(#sh)"/><circle cx="591" cy="232.8" r="12.2" fill="url(#bg1)" fill-opacity="0.8" stroke="#f39a22" stroke-width="2" filter="url(#sh)"/><circle cx="642.8" cy="366.6" r="8.4" fill="url(#bg1)" fill-opacity="0.8" stroke="#f39a22" stroke-width="2" filter="url(#sh)"/><circle cx="486.8" cy="307" r="35.8" fill="url(#bg1)" fill-opacity="0.8" stroke="#f39a22" stroke-width="2" filter="url(#sh)"/><circle cx="626.9" cy="769.5" r="19.9" fill="url(#bg1)" fill-opacity="0.8" stroke="#f39a22" stroke-width="2" filter="url(#sh)"/><path d="M481,168 L481,212 L443.5,212" stroke="#f39a22" stroke-width="1.7" fill="none"/><path d="M518,189 L518,241.3 L503.4,241.3" stroke="#f39a22" stroke-width="1.7" fill="none"/><path d="M597.3,198 L597.3,206.4 L640.8,206.4" stroke="#f39a22" stroke-width="1.7" fill="none"/><path d="M592.5,246 L592.5,384" stroke="#f39a22" stroke-width="1.7" fill="none"/><path d="M643.4,376 L643.4,420.5" stroke="#f39a22" stroke-width="1.7" fill="none"/><path d="M627,739 L627,749" stroke="#f39a22" stroke-width="1.7" fill="none"/><path d="M96,142 C113.3,142.0 166.0,142.1 200,142 C234.0,141.9 276.7,141.5 300,141.5 C323.3,141.5 325.3,141.4 340,142 C354.7,142.6 374.7,143.5 388,145 C401.3,146.5 409.2,148.6 420,151 C430.8,153.4 442.2,155.9 453,159.5 C463.8,163.1 474.0,167.9 485,172.6 C496.0,177.2 508.2,181.2 519,187.4 C529.8,193.6 539.0,201.6 550,210 C561.0,218.4 573.7,227.9 585,238 C596.3,248.1 608.8,260.8 618,270.5 C627.2,280.2 633.3,287.2 640,296 C646.7,304.8 652.2,314.1 658,323.5 C663.8,332.9 669.3,342.8 675,352.5 C680.7,362.2 687.0,371.6 692,381.5 C697.0,391.4 700.6,401.2 705,411.6 C709.4,422.0 716.2,438.4 718.5,443.7" stroke="#e4eab6" stroke-width="3.2" stroke-dasharray="26 7.6" fill="none" filter="url(#sh)"/><text x="348" y="217" font-family="'Liberation Sans',sans-serif" font-size="18.5" font-weight="bold" fill="#f39a22" text-anchor="start" >Antamina</text><text x="406.4" y="244.7" font-family="'Liberation Sans',sans-serif" font-size="18" font-weight="bold" fill="#f39a22" text-anchor="start" >Escondida</text><text x="648.4" y="208.4" font-family="'Liberation Sans',sans-serif" font-size="18" font-weight="bold" fill="#f39a22" text-anchor="start" >Spence</text><text x="430.5" y="367.9" font-family="'Liberation Sans',sans-serif" font-size="18" font-weight="bold" fill="#f39a22" text-anchor="start" >Olympic Dam</text><text x="456.2" y="404.4" font-family="'Liberation Sans',sans-serif" font-size="18.3" font-weight="bold" fill="#f39a22" text-anchor="start" >Escondida North</text><text x="562.9" y="439" font-family="'Liberation Sans',sans-serif" font-size="18.5" font-weight="bold" fill="#f39a22" text-anchor="start" >Carapateena</text><text x="576.7" y="734.2" font-family="'Liberation Sans',sans-serif" font-size="18.3" font-weight="bold" fill="#f39a22" text-anchor="start" >Resolution</text><text x="282" y="212.7" font-family="'Liberation Sans',sans-serif" font-size="14" font-weight="normal" fill="#ebdeb2" text-anchor="start" >Name</text><text x="282" y="229.5" font-family="'Liberation Sans',sans-serif" font-size="14" font-weight="normal" fill="#ebdeb2" text-anchor="start" >of Mine</text><text x="374.8" y="290.7" font-family="'Liberation Sans',sans-serif" font-size="14" font-weight="normal" fill="#ebdeb2" text-anchor="start" >Size of</text><text x="374.8" y="307.5" font-family="'Liberation Sans',sans-serif" font-size="14" font-weight="normal" fill="#ebdeb2" text-anchor="start" >Discovery</text><text x="96" y="257.7" font-family="'Liberation Sans',sans-serif" font-size="14" font-weight="normal" fill="#ebdeb2" text-anchor="middle" >Depth in</text><text x="96" y="274.6" font-family="'Liberation Sans',sans-serif" font-size="14" font-weight="normal" fill="#ebdeb2" text-anchor="middle" >Meters</text><text x="60" y="138" font-family="'Liberation Sans',sans-serif" font-size="13.5" font-weight="normal" fill="#ebdeb2" text-anchor="end" >0</text><text x="83" y="385.5" font-family="'Liberation Sans',sans-serif" font-size="14" font-weight="normal" fill="#ebdeb2" text-anchor="end" >500 m</text><text x="83" y="634" font-family="'Liberation Sans',sans-serif" font-size="14" font-weight="normal" fill="#ebdeb2" text-anchor="end" >1,000 m</text><text x="83" y="883" font-family="'Liberation Sans',sans-serif" font-size="14" font-weight="normal" fill="#ebdeb2" text-anchor="end" >1,500 m</text><text x="107" y="902.8" font-family="'Liberation Sans',sans-serif" font-size="13.5" font-weight="normal" fill="#ebdeb2" text-anchor="middle" >1900</text><text x="198.5" y="902.8" font-family="'Liberation Sans',sans-serif" font-size="13.5" font-weight="normal" fill="#ebdeb2" text-anchor="middle" >1920</text><text x="302.6" y="902.8" font-family="'Liberation Sans',sans-serif" font-size="13.5" font-weight="normal" fill="#ebdeb2" text-anchor="middle" >1940</text><text x="406.5" y="902.8" font-family="'Liberation Sans',sans-serif" font-size="13.5" font-weight="normal" fill="#ebdeb2" text-anchor="middle" >1960</text><text x="510.4" y="902.8" font-family="'Liberation Sans',sans-serif" font-size="13.5" font-weight="normal" fill="#ebdeb2" text-anchor="middle" >1980</text><text x="614.8" y="902.8" font-family="'Liberation Sans',sans-serif" font-size="13.5" font-weight="normal" fill="#ebdeb2" text-anchor="middle" >2000</text><text x="720.5" y="902.8" font-family="'Liberation Sans',sans-serif" font-size="13.5" font-weight="normal" fill="#ebdeb2" text-anchor="middle" >2020</text><text x="94.6" y="919.1" font-family="'Liberation Sans',sans-serif" font-size="14" font-weight="normal" fill="#ebdeb2" text-anchor="start" >Discovery Year</text><text x="736" y="917.3" font-family="'Liberation Sans',sans-serif" font-size="11.5" font-weight="normal" fill="#8e857a" text-anchor="end" >Source: MinEx Consulting; BHP Analysis | Data up to 2022</text><text x="737" y="933" font-family="'Liberation Sans',sans-serif" font-size="11.5" font-weight="normal" fill="#8e857a" text-anchor="end" >Select discoveries with +3M metric tons of copper-equivalent</text><path d="M327.8,235.5 C333,243 348,244 361.5,227" stroke="#ebdeb2" stroke-width="1.4" fill="none" stroke-linecap="round"/><path d="M354.3,231.2 L361.5,226.7 L362.4,235.3" stroke="#ebdeb2" stroke-width="1.4" fill="none" stroke-linecap="round"/><path d="M423.2,273.7 C426,265.5 441,264.5 448.8,280" stroke="#ebdeb2" stroke-width="1.4" fill="none" stroke-linecap="round"/><path d="M441.5,276 L448.8,280.3 L449.8,272.2" stroke="#ebdeb2" stroke-width="1.4" fill="none" stroke-linecap="round"/><circle cx="435.3" cy="478.6" r="39.3" fill="none" stroke="#d98a22" stroke-width="1.5"/><text x="435.3" y="466.9" font-family="'Liberation Sans',sans-serif" font-size="16.5" font-weight="bold" fill="#f39a22" text-anchor="middle" >100M</text><text x="435.3" y="482.8" font-family="'Liberation Sans',sans-serif" font-size="16.5" font-weight="bold" fill="#f39a22" text-anchor="middle" >Metric</text><text x="435.3" y="498" font-family="'Liberation Sans',sans-serif" font-size="16.5" font-weight="bold" fill="#f39a22" text-anchor="middle" >tons</text><path id="arc" d="M380,493.6 A57.3,57.3 0 0 0 490.1,495.4" fill="none"/><text font-family="'Liberation Sans',sans-serif" font-size="15" letter-spacing="1.1" fill="#ebdeb2"><textPath href="#arc" startOffset="0">Diameter reference</textPath></text><g transform="translate(136.5,0) scale(0.915,1)"><text x="0" y="483.6" font-family="'DejaVu Serif',serif" font-size="57" font-weight="bold" fill="#e6ecc0" text-anchor="start" stroke="#e6ecc0" stroke-width="1.6" stroke-linejoin="round">Major</text><text x="0" y="544.5" font-family="'DejaVu Serif',serif" font-size="57" font-weight="bold" fill="#e6ecc0" text-anchor="start" stroke="#e6ecc0" stroke-width="1.6" stroke-linejoin="round" letter-spacing="1.2">Copper</text><text x="0" y="605" font-family="'DejaVu Serif',serif" font-size="57" font-weight="bold" fill="#e6ecc0" text-anchor="start" stroke="#e6ecc0" stroke-width="1.6" stroke-linejoin="round" letter-spacing="0.7">Discoveries</text></g><g transform="translate(140.5,0) scale(0.88,1)"><text x="0" y="641" font-family="'DejaVu Serif',serif" font-size="23.5" font-weight="bold" fill="#e6ecc0" text-anchor="start" stroke="#e6ecc0" stroke-width="1.2" stroke-linejoin="round">Since 1900</text></g><text x="143.6" y="683.1" font-family="'Liberation Sans',sans-serif" font-size="16" font-weight="normal" fill="#ece6d6" text-anchor="start" letter-spacing="0.2">Copper mines are harder to develop than</text><text x="143.6" y="701.7" font-family="'Liberation Sans',sans-serif" font-size="16" font-weight="normal" fill="#ece6d6" text-anchor="start" letter-spacing="0.2">ever before, leading to higher copper prices.</text><text x="386" y="976" font-family="'Liberation Sans',sans-serif" font-size="15" font-weight="bold" fill="#f1ecd6" text-anchor="middle" >BHP estimates that a quarter trillion U.S. dollar investment in the sector</text><text x="386" y="993.5" font-family="'Liberation Sans',sans-serif" font-size="15" font-weight="bold" fill="#f1ecd6" text-anchor="middle" >is necessary in the next decade to overcome key challenges.</text></svg>
</div></body></html>
